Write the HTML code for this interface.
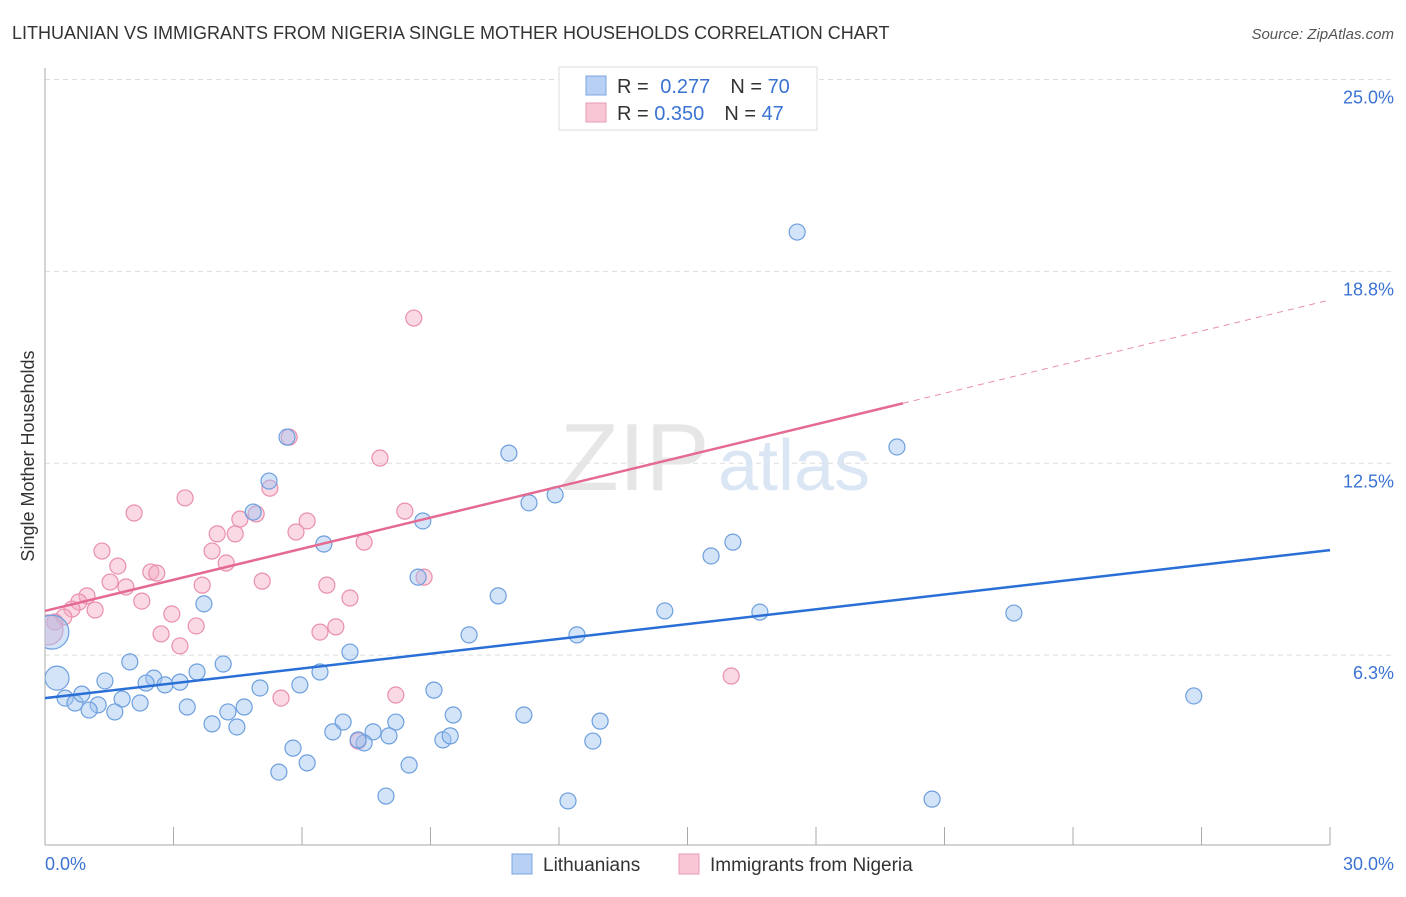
<!DOCTYPE html>
<html><head><meta charset="utf-8"><style>
body{margin:0;background:#fff;font-family:"Liberation Sans",sans-serif}
svg text{font-family:"Liberation Sans",sans-serif}
</style></head><body>
<svg width="1406" height="892" viewBox="0 0 1406 892">
<text x="12" y="39" font-size="18" fill="#333">LITHUANIAN VS IMMIGRANTS FROM NIGERIA SINGLE MOTHER HOUSEHOLDS CORRELATION CHART</text>
<text x="1394" y="39" font-size="15" fill="#555" font-style="italic" text-anchor="end">Source: ZipAtlas.com</text>
<g id="grid"></g>
<text x="560" y="490" font-size="96" fill="#e6e6e6" font-family="Liberation Serif">ZIP</text>
<text x="718" y="490" font-size="72" fill="#dbe6f4">atlas</text>
<line x1="45" y1="68" x2="45" y2="845" stroke="#aaa"/>
<line x1="45" y1="845" x2="1330" y2="845" stroke="#aaa"/>
<g id="xticks"></g>
<g id="ylabels"></g>
<text x="45" y="870" font-size="18" fill="#3b73d4">0.0%</text>
<text x="1394" y="870" font-size="18" fill="#3b73d4" text-anchor="end">30.0%</text>
<text transform="translate(34,456) rotate(-90)" font-size="18" fill="#333" text-anchor="middle">Single Mother Households</text>
<defs><clipPath id="pc"><rect x="45" y="60" width="1361" height="785"/></clipPath></defs>
<g id="points" clip-path="url(#pc)"></g>
<g id="trends"></g>
<g>
<rect x="559" y="67" width="258" height="63" fill="#fff" stroke="#ddd"/>
<rect x="586" y="76" width="20" height="19" fill="#b7d0f4" stroke="#7aa6e0"/>
<rect x="586" y="103" width="20" height="19" fill="#f9c6d6" stroke="#e99ab4"/>
<text x="617" y="93" font-size="20" fill="#333">R = <tspan fill="#3b73d4" dx="6">0.277</tspan><tspan dx="20">N = </tspan><tspan fill="#3b73d4">70</tspan></text>
<text x="617" y="120" font-size="20" fill="#333">R = <tspan fill="#3b73d4">0.350</tspan><tspan dx="20">N = </tspan><tspan fill="#3b73d4">47</tspan></text>
</g>
<g>
<rect x="512" y="854" width="20" height="20" fill="#b7d0f4" stroke="#7aa6e0"/>
<text x="543" y="871" font-size="19" fill="#333">Lithuanians</text>
<rect x="679" y="854" width="20" height="20" fill="#f9c6d6" stroke="#e99ab4"/>
<text x="710" y="871" font-size="19" fill="#333">Immigrants from Nigeria</text>
</g>
</svg>
<script>
const yTicks=[6.25,12.5,18.75,25];
const yTickLabels=["6.3%","12.5%","18.8%","25.0%"];
const xTickVals=[0,3,6,9,12,15,18,21,24,27,30];
const blueX=[17.56,19.89,10.83,5.65,5.23,11.91,11.30,4.86,8.82,16.06,15.55,6.51,8.71,10.58,3.71,14.47,16.69,22.62,9.90,12.42,7.12,1.98,4.16,1.40,2.54,2.36,2.80,3.15,3.55,6.42,5.02,5.95,9.08,0.28,0.47,0.70,0.86,1.80,1.24,1.03,1.63,2.22,3.32,4.65,4.27,3.90,4.48,6.96,6.72,7.66,8.19,8.03,9.53,11.18,12.96,26.82,5.79,5.46,6.12,9.29,9.46,7.45,7.31,12.79,8.50,7.96,12.21,20.71,0.16];
const blueY=[20.03,13.03,12.83,13.35,11.92,11.47,11.21,10.91,10.62,9.93,9.48,9.87,8.79,8.18,7.92,7.69,7.65,7.62,6.91,6.91,6.35,6.03,5.96,5.41,5.50,5.34,5.28,5.37,5.70,5.70,5.18,5.28,5.11,5.50,4.85,4.69,4.98,4.82,4.63,4.46,4.40,4.69,4.56,4.56,4.40,4.01,3.91,4.07,3.75,3.75,4.07,3.62,4.30,4.30,4.10,4.92,3.22,2.44,2.74,3.49,3.62,3.39,3.49,3.45,2.67,1.66,1.50,1.56,7.00];
const blueSize=[8,8,8,8,8,8,8,8,8,8,8,8,8,8,8,8,8,8,8,8,8,8,8,8,8,8,8,8,8,8,8,8,8,12,8,8,8,8,8,8,8,8,8,8,8,8,8,8,8,8,8,8,8,8,8,8,8,8,8,8,8,8,8,8,8,8,8,8,17];
const pinkX=[8.61,5.70,7.82,3.27,5.25,2.08,4.93,4.55,4.02,4.44,6.12,5.86,8.40,7.45,1.33,3.90,1.70,4.23,2.47,2.61,1.52,1.89,3.67,5.07,6.58,8.85,0.98,0.79,2.26,7.12,1.17,0.63,2.96,0.44,0.23,3.53,6.79,6.42,2.71,3.15,16.02,8.19,5.51,7.31,0.07];
const pinkY=[17.23,13.35,12.67,11.37,11.69,10.88,10.85,10.68,10.20,10.20,10.62,10.26,10.94,9.93,9.64,9.64,9.15,9.25,8.96,8.92,8.63,8.47,8.53,8.66,8.53,8.79,8.18,7.98,8.01,8.11,7.72,7.75,7.59,7.49,7.33,7.20,7.17,7.00,6.94,6.55,5.57,4.95,4.85,3.45,7.07];
const blueTrend=[4.85,9.67];
const pinkTrend=[7.69,17.82];
const pinkSolidEnd=20.03;
const NS='http://www.w3.org/2000/svg';
function sx(v){return 45+v*(1285/30);}
function sy(v){return 847-v*30.7;}
function mk(t,a,p){const e=document.createElementNS(NS,t);for(const k in a)e.setAttribute(k,a[k]);p.appendChild(e);return e;}
const grid=document.getElementById('grid'),yl=document.getElementById('ylabels');
yTicks.forEach((v,i)=>{
 const l=mk('line',{x1:45,x2:1394,y1:sy(v),y2:sy(v),stroke:'#ddd','stroke-dasharray':'5,4'},grid);
 
 
 const t=mk('text',{x:1394,y:sy(v)+24,'font-size':18,fill:'#3b73d4','text-anchor':'end'},yl);
 t.textContent=yTickLabels[i];
 
 
});
const xt=document.getElementById('xticks');
xTickVals.forEach(v=>{
 const l=mk('line',{x1:sx(v),x2:sx(v),y1:827,y2:845,stroke:'#aaa'},xt);
 
 
});
const pts=document.getElementById('points');
pinkX.forEach((x,i)=>{
 const c=mk('circle',{cx:sx(x),cy:sy(pinkY[i]),r:(i==pinkX.length-1?15:8),fill:'rgba(244,170,196,0.45)',stroke:'#e98fae','stroke-width':1.2},pts);
 
 
});
blueX.forEach((x,i)=>{
 const c=mk('circle',{cx:sx(x),cy:sy(blueY[i]),r:blueSize[i],fill:'rgba(160,196,240,0.45)',stroke:'#6d9fde','stroke-width':1.2},pts);
 
 
});
const tr=document.getElementById('trends');
const bl=mk('line',{x1:sx(0),y1:sy(blueTrend[0]),x2:sx(30),y2:sy(blueTrend[1]),stroke:'#2a6fd6','stroke-width':2.5},tr);


const pe=pinkTrend[0]+(pinkTrend[1]-pinkTrend[0])*pinkSolidEnd/30;
const pl=mk('line',{x1:sx(0),y1:sy(pinkTrend[0]),x2:sx(pinkSolidEnd),y2:sy(pe),stroke:'#e56a92','stroke-width':2.5},tr);


const pd=mk('line',{x1:sx(pinkSolidEnd),y1:sy(pe),x2:sx(30),y2:sy(pinkTrend[1]),stroke:'#e98fae','stroke-width':1,'stroke-dasharray':'6,5'},tr);


</script>
</body></html>
